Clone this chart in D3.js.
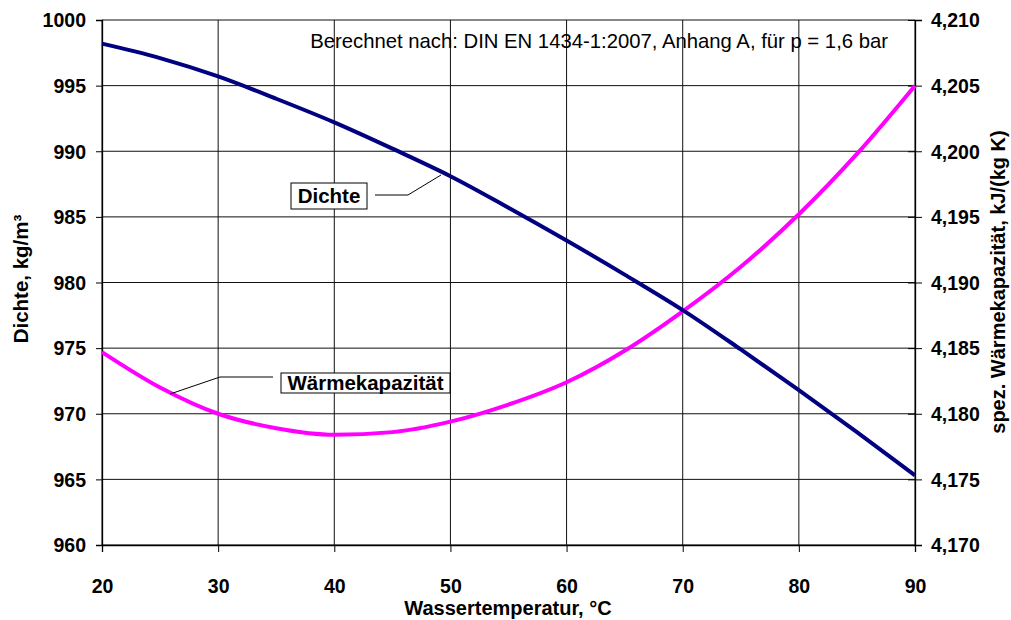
<!DOCTYPE html>
<html>
<head>
<meta charset="utf-8">
<script src="https://cdn.jsdelivr.net/npm/d3@7"></script>
<style>
  html, body { margin: 0; padding: 0; background: #fff; }
  svg text { font-family: "Liberation Sans", Arial, sans-serif; }
</style>
</head>
<body>
<svg id="chart" width="1011" height="620"></svg>
<script>
// Wassertemperatur in °C
const temperatures = [20, 25, 30, 35, 40, 45, 50, 55, 60, 65, 70, 75, 80, 85, 90];
// Dichte in kg/m³
const density = [998.2, 997.1, 995.7, 994.0, 992.2, 990.2, 988.1, 985.7, 983.2, 980.6, 977.9, 974.9, 971.8, 968.6, 965.3];
// spez. Wärmekapazität in kJ/(kg K)
const heatCapacity = [4.1847, 4.1820, 4.1800, 4.1789, 4.1784, 4.1786, 4.1794, 4.1807, 4.1824, 4.1848, 4.1878, 4.1912, 4.1952, 4.1998, 4.2050];

const xTicks = [20, 30, 40, 50, 60, 70, 80, 90];
const leftTicks = [960, 965, 970, 975, 980, 985, 990, 995, 1000];
const rightTicks = [4.170, 4.175, 4.180, 4.185, 4.190, 4.195, 4.200, 4.205, 4.210];

const svg = d3.select("#chart");
const m = { left: 102, right: 915, top: 20, bottom: 545 };

const x = d3.scaleLinear().domain([20, 90]).range([m.left, m.right]);
const yL = d3.scaleLinear().domain([960, 1000]).range([m.bottom, m.top]);
const yR = d3.scaleLinear().domain([4.170, 4.210]).range([m.bottom, m.top]);

const fmtR = v => d3.format(".3f")(v).replace(".", ",");

// Gitterlinien
const grid = svg.append("g");
grid.selectAll("line.h").data(leftTicks).join("line")
  .attr("x1", m.left).attr("x2", m.right)
  .attr("y1", d => yL(d)).attr("y2", d => yL(d))
  .attr("stroke", "#111").attr("stroke-width", 1);
grid.selectAll("line.v").data(xTicks).join("line")
  .attr("y1", m.top).attr("y2", m.bottom)
  .attr("x1", d => x(d)).attr("x2", d => x(d))
  .attr("stroke", "#111").attr("stroke-width", 1);

// Achsen
const axL = svg.append("g").attr("transform", `translate(${m.left},0)`)
  .call(d3.axisLeft(yL).tickValues(leftTicks).tickSize(6).tickPadding(10).tickFormat(d3.format("d")));
const axR = svg.append("g").attr("transform", `translate(${m.right},0)`)
  .call(d3.axisRight(yR).tickValues(rightTicks).tickSize(7).tickPadding(9).tickFormat(fmtR));
axR.selectAll(".tick line").attr("x1", -7);
const axB = svg.append("g").attr("transform", `translate(0,${m.bottom})`)
  .call(d3.axisBottom(x).tickValues(xTicks).tickSize(7).tickPadding(27).tickFormat(d3.format("d")));

[axL, axR, axB].forEach(a => {
  a.attr("font-size", null).attr("font-family", null);
  a.select(".domain").attr("stroke", "#000").attr("stroke-width", 1.3);
  a.selectAll(".tick line").attr("stroke", "#000");
  a.selectAll(".tick text").attr("fill", "#000")
    .style("font-size", "19.5px").style("font-weight", "bold");
});
axL.selectAll(".tick text").attr("dy", "0.35em");
axR.selectAll(".tick text").attr("dy", "0.35em");
axB.selectAll(".tick text").attr("dy", "0.71em");

// Kurven
const lineDensity = d3.line().x((d, i) => x(temperatures[i])).y(d => yL(d)).curve(d3.curveMonotoneX);
const lineCp = d3.line().x((d, i) => x(temperatures[i])).y(d => yR(d)).curve(d3.curveMonotoneX);

svg.append("path").datum(heatCapacity).attr("d", lineCp)
  .attr("fill", "none").attr("stroke", "#ff00ff").attr("stroke-width", 4);
svg.append("path").datum(density).attr("d", lineDensity)
  .attr("fill", "none").attr("stroke", "#000080").attr("stroke-width", 4);

// Achsentitel
svg.append("text").attr("x", 508).attr("y", 615)
  .attr("text-anchor", "middle").style("font-size", "20px").style("font-weight", "bold")
  .text("Wassertemperatur, °C");
svg.append("text").attr("transform", `translate(28,279) rotate(-90)`)
  .attr("text-anchor", "middle").style("font-size", "20.5px").style("font-weight", "bold")
  .text("Dichte, kg/m³");
svg.append("text").attr("transform", `translate(1005,282) rotate(-90)`)
  .attr("text-anchor", "middle").style("font-size", "20px").style("font-weight", "bold")
  .text("spez. Wärmekapazität, kJ/(kg K)");

// Hinweis
svg.append("text").attr("x", 888).attr("y", 48).attr("text-anchor", "end")
  .style("font-size", "20.3px").text("Berechnet nach: DIN EN 1434-1:2007, Anhang A, für p = 1,6 bar");

// Beschriftungen mit Hinweislinien
function callout(label, bx, by, bw, bh, pts) {
  svg.append("rect").attr("x", bx).attr("y", by).attr("width", bw).attr("height", bh)
    .attr("fill", "#fff").attr("stroke", "#000").attr("stroke-width", 1);
  svg.append("text").attr("x", bx + bw / 2).attr("y", by + bh / 2).attr("dy", "0.35em")
    .attr("text-anchor", "middle").style("font-size", "20.5px").style("font-weight", "bold").text(label);
  svg.append("path").attr("d", d3.line()(pts)).attr("fill", "none").attr("stroke", "#000").attr("stroke-width", 1);
}
callout("Dichte", 291, 183, 76, 26, [[375, 195], [408, 195], [441, 175]]);
callout("Wärmekapazität", 281, 373, 169, 20, [[273, 377], [220, 377], [170, 394]]);
</script>
</body>
</html>
